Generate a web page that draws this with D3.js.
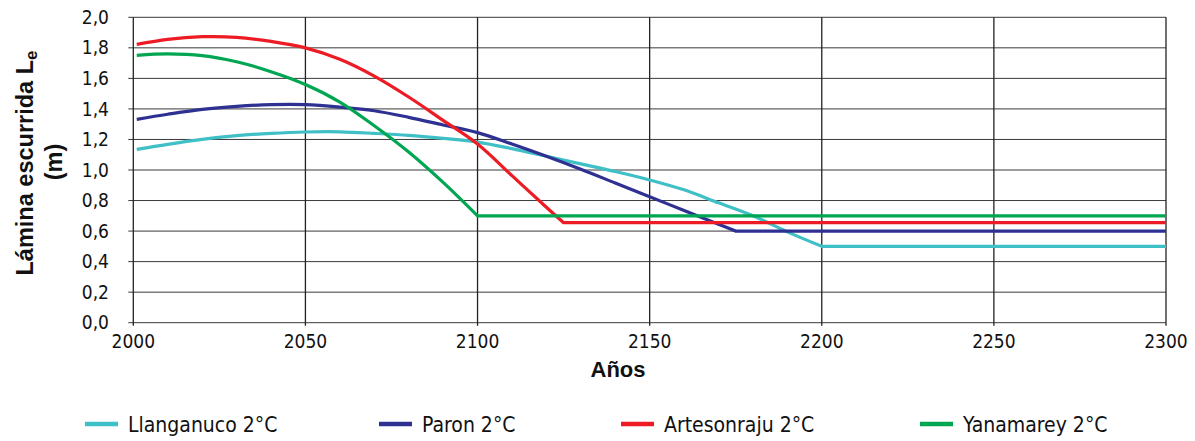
<!DOCTYPE html>
<html>
<head>
<meta charset="utf-8">
<script src="https://cdn.jsdelivr.net/npm/d3@7"></script>
<style>
	body { margin: 0; background: #fff; }
	svg { display: block; }
</style>
</head>
<body>
<svg id="chart" width="1195" height="441"></svg>
<script>
// values (Lámina escurrida, m)
var llanganucoYears = [2001, 2010, 2020, 2030, 2040, 2050, 2060, 2070, 2080, 2090, 2100, 2110, 2120, 2130, 2140, 2150, 2160, 2170, 2180, 2190, 2200, 2300];
var llanganucoVals  = [1.135, 1.168, 1.200, 1.225, 1.240, 1.249, 1.250, 1.240, 1.227, 1.207, 1.183, 1.140, 1.090, 1.040, 0.990, 0.935, 0.870, 0.785, 0.700, 0.595, 0.500, 0.500];

var paronYears = [2001, 2010, 2020, 2030, 2040, 2050, 2060, 2070, 2080, 2090, 2100, 2110, 2120, 2130, 2140, 2150, 2160, 2170, 2175, 2300];
var paronVals  = [1.332, 1.365, 1.397, 1.417, 1.428, 1.428, 1.412, 1.388, 1.345, 1.295, 1.245, 1.170, 1.090, 1.005, 0.915, 0.825, 0.735, 0.645, 0.600, 0.600];

var artesonrajuYears = [2001, 2010, 2020, 2030, 2040, 2050, 2060, 2070, 2080, 2090, 2100, 2110, 2120, 2125, 2300];
var artesonrajuVals  = [1.823, 1.856, 1.873, 1.869, 1.842, 1.800, 1.725, 1.615, 1.478, 1.325, 1.170, 0.963, 0.756, 0.655, 0.655];

var yanamareyYears = [2001, 2010, 2020, 2030, 2040, 2050, 2060, 2070, 2080, 2090, 2100, 2300];
var yanamareyVals  = [1.751, 1.760, 1.749, 1.709, 1.644, 1.560, 1.445, 1.290, 1.118, 0.919, 0.700, 0.700];

var seriesNames  = ["Llanganuco 2°C", "Paron 2°C", "Artesonraju 2°C", "Yanamarey 2°C"];
var seriesColors = ["#3fbfc6", "#2e3192", "#ed1c24", "#00a651"];

var xTicks = [2000, 2050, 2100, 2150, 2200, 2250, 2300];
var yTicks = [0, 0.2, 0.4, 0.6, 0.8, 1.0, 1.2, 1.4, 1.6, 1.8, 2.0];

var tickFont = "'Liberation Sans Narrow', 'DejaVu Sans Condensed', 'Liberation Sans', sans-serif";
var titleFont = "'Liberation Sans', Arial, sans-serif";

var svg = d3.select("#chart");

var x = d3.scaleLinear().domain([2000, 2300]).range([133.3, 1166]);
var y = d3.scaleLinear().domain([0, 2]).range([322.7, 17.3]);

var fmt = function(v){ return d3.format(".1f")(v).replace(".", ","); };

// horizontal grid
svg.append("g").attr("class","hgrid")
	.selectAll("line").data(yTicks).enter().append("line")
		.attr("x1", x(2000) - 5)
		.attr("x2", x(2300))
		.attr("y1", function(d){ return y(d); })
		.attr("y2", function(d){ return y(d); })
		.attr("stroke", "#3a3a3a")
		.attr("stroke-width", 1);

// vertical grid
svg.append("g").attr("class","vgrid")
	.selectAll("line").data(xTicks).enter().append("line")
		.attr("x1", function(d){ return x(d); })
		.attr("x2", function(d){ return x(d); })
		.attr("y1", y(2))
		.attr("y2", y(0) + 3)
		.attr("stroke", "#222")
		.attr("stroke-width", 1.3);

// tick labels
svg.append("g").attr("class","ylabels")
	.selectAll("text").data(yTicks).enter().append("text")
		.attr("x", 109)
		.attr("y", function(d){ return y(d); })
		.attr("dy", "0.35em")
		.attr("text-anchor", "end")
		.attr("font-family", tickFont)
		.attr("font-size", 19)
		.attr("fill", "#111")
		.text(fmt);

svg.append("g").attr("class","xlabels")
	.selectAll("text").data(xTicks).enter().append("text")
		.attr("x", function(d){ return x(d); })
		.attr("y", 347.5)
		.attr("text-anchor", "middle")
		.attr("font-family", tickFont)
		.attr("font-size", 19)
		.attr("fill", "#111")
		.text(function(d){ return d; });

// axis titles
svg.append("text")
	.attr("x", 618)
	.attr("y", 377)
	.attr("text-anchor", "middle")
	.attr("font-family", titleFont)
	.attr("font-weight", "bold")
	.attr("font-size", 22)
	.attr("fill", "#111")
	.text("Años");

var yTitle = svg.append("text")
	.attr("transform", "translate(33,163) rotate(-90)")
	.attr("text-anchor", "middle")
	.attr("font-family", titleFont)
	.attr("font-weight", "bold")
	.attr("font-size", 23.5)
	.attr("fill", "#111");
yTitle.append("tspan").text("Lámina escurrida L");
yTitle.append("tspan").attr("font-size", 17).attr("dy", 4).text("e");
svg.append("text")
	.attr("transform", "translate(62,162) rotate(-90)")
	.attr("text-anchor", "middle")
	.attr("font-family", titleFont)
	.attr("font-weight", "bold")
	.attr("font-size", 23.5)
	.attr("fill", "#111")
	.text("(m)");

// series lines: smooth decline, then a straight floor after the break
var allYears = [llanganucoYears, paronYears, artesonrajuYears, yanamareyYears];
var allVals  = [llanganucoVals, paronVals, artesonrajuVals, yanamareyVals];

var curved = d3.line()
	.x(function(d){ return x(d[0]); })
	.y(function(d){ return y(d[1]); })
	.curve(d3.curveCatmullRom.alpha(0.5));
var straight = d3.line()
	.x(function(d){ return x(d[0]); })
	.y(function(d){ return y(d[1]); });

var lines = svg.append("g").attr("class","series");
seriesNames.forEach(function(name, i){
	var pts = allYears[i].map(function(yr, k){ return [yr, allVals[i][k]]; });
	var n = pts.length;
	var d = curved(pts.slice(0, n - 1)) + straight(pts.slice(n - 2)).replace(/^M/, "L");
	lines.append("path")
		.attr("d", d)
		.attr("fill", "none")
		.attr("stroke", seriesColors[i])
		.attr("stroke-width", 3.2)
		.attr("stroke-linejoin", "miter");
});

// legend
var legendX = [85, 379, 621, 920];
var legend = svg.append("g").attr("class","legend");
seriesNames.forEach(function(name, i){
	legend.append("line")
		.attr("x1", legendX[i])
		.attr("x2", legendX[i] + 33)
		.attr("y1", 424)
		.attr("y2", 424)
		.attr("stroke", seriesColors[i])
		.attr("stroke-width", 4.5);
	legend.append("text")
		.attr("x", legendX[i] + 43)
		.attr("y", 424)
		.attr("dy", "0.36em")
		.attr("font-family", tickFont)
		.attr("font-size", 21)
		.attr("fill", "#111")
		.text(name);
});
</script>
</body>
</html>
